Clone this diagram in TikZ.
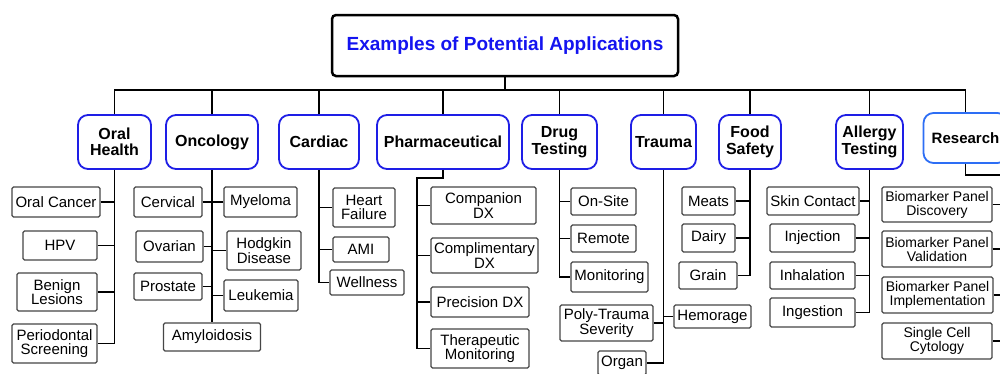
\documentclass[tikz,border=0pt]{standalone}
\usepackage{fontspec}
\setmainfont{Liberation Sans}
\definecolor{catblue}{RGB}{30,30,230}
\definecolor{resblue}{RGB}{45,110,245}
\definecolor{titleblue}{RGB}{20,20,240}
\definecolor{leafgray}{RGB}{70,70,70}
\begin{document}
\begin{tikzpicture}[x=1pt,y=-1pt,
  titlebox/.style={draw=black, line width=2.5pt, rounded corners=4pt, fill=white,
    inner sep=0pt, text=titleblue, font=\fontsize{19}{21}\selectfont\bfseries},
  cat/.style={draw=catblue, line width=1.8pt, rounded corners=10pt, fill=white,
    inner sep=0pt, align=center, minimum height=54pt,
    font=\fontsize{16}{16.5}\selectfont\bfseries},
  leaf/.style={draw=leafgray, line width=1.3pt, rounded corners=1.5pt, fill=white,
    inner sep=0pt, align=center, font=\fontsize{15}{14.5}\selectfont},
  leafsm/.style={leaf, font=\fontsize{14}{14}\selectfont},
  link/.style={draw=black, line width=1.8pt}]
\useasboundingbox (0,0) rectangle (1000,373);
\clip (0,0) rectangle (1000,373);
\fill[white] (0,0) rectangle (1000,373);

% title and top-level categories
\node[titlebox, minimum width=346pt, minimum height=61pt] (title) at (505,45.5) {Examples of Potential Applications};
\node[cat, minimum width=73pt]  (oh)   at (114.5,142) {Oral\\Health};
\node[cat, minimum width=92pt]  (onc)  at (212,142)   {Oncology};
\node[cat, minimum width=80pt]  (car)  at (319,142)   {Cardiac};
\node[cat, minimum width=132pt] (pha)  at (443,142)   {Pharmaceutical};
\node[cat, minimum width=75pt]  (drug) at (559.5,142) {Drug\\Testing};
\node[cat, minimum width=65pt]  (tra)  at (663.5,142) {Trauma};
\node[cat, minimum width=62pt]  (food) at (750,142)   {Food\\Safety};
\node[cat, minimum width=67pt]  (alg)  at (869.5,142) {Allergy\\Testing};
\node[cat, draw=resblue, minimum width=84pt, minimum height=50pt,
  font=\fontsize{15}{16}\selectfont\bfseries] (res) at (965.5,138) {Research};

% bus from the title to each category
\coordinate (bus) at (title.south |- 0,90);
\draw[link] (title.south) -- (bus);
\foreach \c in {oh,onc,car,pha,drug,tra,food,alg,res}
  \draw[link] (bus) -| (\c.north);

% Oral Health
\node[leaf, minimum width=88pt, minimum height=30pt] (ohA) at (56,202)    {Oral Cancer};
\node[leaf, minimum width=74pt, minimum height=29pt] (ohB) at (60,245.5)  {HPV};
\node[leaf, minimum width=80pt, minimum height=38pt] (ohC) at (57,292)    {Benign\\Lesions};
\node[leaf, minimum width=85pt, minimum height=39pt] (ohD) at (54.5,343.5){Periodontal\\Screening};
\draw[link] (oh.south) |- (ohD.east);
\foreach \n in {ohA,ohB,ohC} \draw[link] (\n.east) -- (\n.east -| oh.south);

% Oncology
\node[leaf, minimum width=68pt, minimum height=30pt] (oncA) at (168,202)   {Cervical};
\node[leaf, minimum width=67pt, minimum height=31pt] (oncB) at (169.5,246.5){Ovarian};
\node[leaf, minimum width=68pt, minimum height=27pt] (oncC) at (168,286.5) {Prostate};
\node[leaf, minimum width=73pt, minimum height=30pt] (oncD) at (260.5,202) {Myeloma};
\node[leaf, minimum width=74pt, minimum height=39pt] (oncE) at (264,250.5) {Hodgkin\\Disease};
\node[leaf, minimum width=74pt, minimum height=31pt] (oncF) at (261,295.5) {Leukemia};
\node[leaf, minimum width=97pt, minimum height=28pt] (oncG) at (onc.south |- 0,337) {Amyloidosis};
\draw[link] (onc.south) -- (oncG.north);
\foreach \n in {oncA,oncB,oncC} \draw[link] (\n.east) -- (\n.east -| onc.south);
\foreach \n in {oncD,oncE,oncF} \draw[link] (\n.west) -- (\n.west -| onc.south);

% Cardiac
\node[leaf, minimum width=62pt, minimum height=39pt] (carA) at (364,207.5) {Heart\\Failure};
\node[leaf, minimum width=56pt, minimum height=25pt] (carB) at (361,249.5) {AMI};
\node[leaf, minimum width=74pt, minimum height=25pt] (carC) at (367,282.5) {Wellness};
\draw[link] (car.south) |- (carC.west);
\foreach \n in {carA,carB} \draw[link] (\n.west) -- (\n.west -| car.south);

% Pharmaceutical
\node[leaf, minimum width=105pt, minimum height=37pt] (phaA) at (483.5,205.5) {Companion\\DX};
\node[leaf, minimum width=107pt, minimum height=35pt] (phaB) at (484.5,255.5) {Complimentary\\DX};
\node[leaf, minimum width=98pt,  minimum height=30pt] (phaC) at (480,302)     {Precision DX};
\node[leaf, minimum width=98pt,  minimum height=39pt] (phaD) at (480,348.5)   {Therapeutic\\Monitoring};
\coordinate (phaJ) at (417,178);
\draw[link] (pha.south) -- (pha.south |- phaJ) -- (phaJ) |- (phaD.west);
\foreach \n in {phaA,phaB,phaC} \draw[link] (\n.west) -- (\n.west -| phaJ);

% Drug Testing
\node[leaf, minimum width=65pt, minimum height=27pt] (drA) at (603.5,201.5) {On-Site};
\node[leaf, minimum width=65pt, minimum height=27pt] (drB) at (603.5,238.5) {Remote};
\node[leaf, minimum width=77pt, minimum height=30pt] (drC) at (609.5,277)   {Monitoring};
\draw[link] (drug.south) |- (drC.west);
\foreach \n in {drA,drB} \draw[link] (\n.west) -- (\n.west -| drug.south);

% Trauma
\node[leaf, minimum width=93pt, minimum height=36pt] (trA) at (606.5,323)  {Poly-Trauma\\Severity};
\node[leaf, minimum width=77pt, minimum height=23pt] (trB) at (712.5,316.5){Hemorage};
\node[leaf, minimum width=48pt, minimum height=24pt] (trC) at (622,363)    {Organ};
\draw[link] (tra.south) |- (trC.east);
\draw[link] (trA.east) -- (trA.east -| tra.south);
\draw[link] (trB.west) -- (trB.west -| tra.south);

% Food Safety
\node[leaf, minimum width=53pt, minimum height=28pt] (fdA) at (708.5,201) {Meats};
\node[leaf, minimum width=53pt, minimum height=28pt] (fdB) at (708.5,238) {Dairy};
\node[leaf, minimum width=58pt, minimum height=27pt] (fdC) at (708,275.5) {Grain};
\draw[link] (food.south) |- (fdC.east);
\foreach \n in {fdA,fdB} \draw[link] (\n.east) -- (\n.east -| food.south);

% Allergy Testing
\node[leaf, minimum width=92pt, minimum height=28pt] (alA) at (813,201)   {Skin Contact};
\node[leaf, minimum width=85pt, minimum height=28pt] (alB) at (812.5,238) {Injection};
\node[leaf, minimum width=85pt, minimum height=27pt] (alC) at (812.5,275.5){Inhalation};
\node[leaf, minimum width=85pt, minimum height=29pt] (alD) at (812.5,312.5){Ingestion};
\draw[link] (alg.south) |- (alD.east);
\foreach \n in {alA,alB,alC} \draw[link] (\n.east) -- (\n.east -| alg.south);

% Research
\node[leafsm, minimum width=110pt, minimum height=35pt] (rsA) at (937,204.5) {Biomarker Panel\\Discovery};
\node[leafsm, minimum width=110pt, minimum height=36pt] (rsB) at (937,249)   {Biomarker Panel\\Validation};
\node[leafsm, minimum width=111pt, minimum height=36pt] (rsC) at (937.5,295) {Biomarker Panel\\Implementation};
\node[leafsm, minimum width=110pt, minimum height=36pt] (rsD) at (937,341)   {Single Cell\\Cytology};
\coordinate (rsJ) at (1012,175);
\draw[link] (res.south) |- (rsJ) |- (rsD.east);
\foreach \n in {rsA,rsB,rsC} \draw[link] (\n.east) -- (\n.east -| rsJ);
\end{tikzpicture}
\end{document}
